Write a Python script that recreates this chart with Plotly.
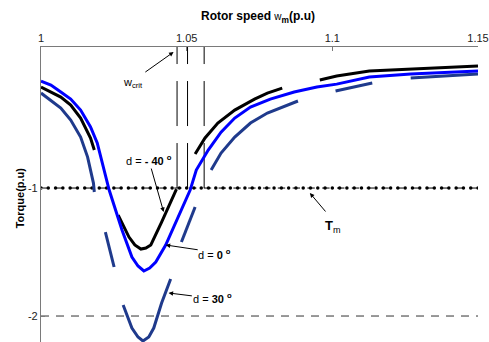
import numpy as np
import plotly.graph_objects as go

# ---- axis ticks ----
speed_ticks = [1.0, 1.05, 1.1, 1.15]
speed_tick_text = ["1", "1.05", "1.1", "1.15"]
torque_ticks = [-1, -2]
torque_tick_text = ["-1", "-2"]

# ---- reference levels ----
T_m = -1.0          # mechanical torque
T_low = -2.0        # lower dashed reference
w_crit = [1.0467, 1.0503, 1.0560]   # critical speeds (crossing of T_m)

# ---- torque-speed curves (None marks a break in the trace) ----
# d = -40 deg
dm40_speed = [1.0000, 1.0034, 1.0068, 1.0102, 1.0136, 1.0170, 1.0183, None,
              1.0265, 1.0302, 1.0322, 1.0343, 1.0360, 1.0377, 1.0414, 1.0445, 1.0465, None,
              1.0529, 1.0563, 1.0607, 1.0665, 1.0733, 1.0777, 1.0828, None,
              1.0957, 1.1015, 1.1127, 1.1269, 1.1500]
dm40_torque = [-0.211, -0.250, -0.289, -0.352, -0.453, -0.609, -0.703, None,
               -1.211, -1.383, -1.445, -1.477, -1.469, -1.445, -1.266, -1.117, -1.008, None,
               -0.734, -0.609, -0.492, -0.391, -0.305, -0.258, -0.219, None,
               -0.156, -0.125, -0.086, -0.070, -0.047]

# d = 0 deg
d0_speed = [1.0000, 1.0034, 1.0068, 1.0102, 1.0136, 1.0170, 1.0193, 1.0214,
            1.0227, 1.0234, 1.0278, 1.0312, 1.0333, 1.0353, 1.0373, 1.0394,
            1.0428, 1.0462, 1.0495, 1.0512, 1.0533, 1.0574, 1.0618, 1.0665,
            1.0719, 1.0787, 1.0869, 1.0947, 1.1015, 1.1127, 1.1269, 1.1500]
d0_torque = [-0.164, -0.195, -0.250, -0.305, -0.391, -0.523, -0.648, -0.836,
             -0.961, -1.016, -1.328, -1.539, -1.609, -1.648, -1.625, -1.578,
             -1.445, -1.273, -1.094, -1.016, -0.859, -0.703, -0.563, -0.453,
             -0.367, -0.305, -0.250, -0.211, -0.188, -0.133, -0.109, -0.086]

# d = 30 deg
d30_speed = [1.0000, 1.0034, 1.0068, 1.0102, 1.0136, 1.0160, 1.0180, 1.0183, None,
             1.0221, 1.0251, None,
             1.0282, 1.0312, 1.0333, 1.0350, 1.0370, 1.0387, 1.0414, 1.0445, None,
             1.0482, 1.0529, None,
             1.0584, 1.0618, 1.0665, 1.0719, 1.0777, 1.0835, 1.0882, None,
             1.1011, 1.1137, None,
             1.1269, 1.1388, 1.1500]
d30_torque = [-0.258, -0.313, -0.375, -0.469, -0.602, -0.758, -0.961, -1.031, None,
              -1.344, -1.617, None,
              -1.914, -2.094, -2.164, -2.195, -2.164, -2.094, -1.898, -1.711, None,
              -1.422, -1.148, None,
              -0.859, -0.727, -0.602, -0.492, -0.414, -0.359, -0.320, None,
              -0.242, -0.180, None,
              -0.141, -0.125, -0.109]

X_RANGE = [1.0, 1.15]
Y_RANGE = [-2.203, 0.102]

BLACK = "#000000"
BLUE = "#0000ff"
NAVY = "#1f3a8c"
AXIS_GRAY = "#7a7a7a"
FONT = "Liberation Sans, Arial, sans-serif"
NARROW = "Liberation Sans Narrow, Arial Narrow, Liberation Sans, sans-serif"

fig = go.Figure()

# T_m line: dots joined in pairs
tm_x = np.arange(X_RANGE[0], X_RANGE[1] + 1e-9, 0.0025)
fig.add_trace(go.Scatter(
    x=tm_x, y=[T_m] * len(tm_x), mode="lines+markers",
    line=dict(color=BLACK, width=1, dash="7.4px,7.4px"),
    marker=dict(color=BLACK, size=3.5), showlegend=False, hoverinfo="skip"))

# lower dashed reference
fig.add_trace(go.Scatter(
    x=X_RANGE, y=[T_low, T_low], mode="lines",
    line=dict(color="#333333", width=1, dash="8px,7px"),
    showlegend=False, hoverinfo="skip"))

# critical speed markers, drawn upward from T_m
for w in w_crit:
    fig.add_trace(go.Scatter(
        x=[w, w], y=[T_m, Y_RANGE[1]], mode="lines",
        line=dict(color=BLACK, width=1, dash="45px,17px"),
        showlegend=False, hoverinfo="skip"))

for xs, ys, col in [(d30_speed, d30_torque, NAVY),
                    (dm40_speed, dm40_torque, BLACK),
                    (d0_speed, d0_torque, BLUE)]:
    fig.add_trace(go.Scatter(
        x=xs, y=ys, mode="lines", connectgaps=False,
        line=dict(color=col, width=3),
        showlegend=False, hoverinfo="skip"))


def arrow(tail, head):
    return dict(x=head[0], y=head[1], ax=tail[0], ay=tail[1],
                xref="x", yref="y", axref="x", ayref="y",
                text="", showarrow=True, arrowhead=2, arrowsize=0.9,
                arrowwidth=1, arrowcolor=BLACK, standoff=0, startstandoff=0)


def label(x, y, txt, size=11, family=NARROW):
    return dict(x=x, y=y, xref="x", yref="y", text=txt, showarrow=False,
                font=dict(family=family, size=size, color="#000000"),
                xanchor="center", yanchor="middle")


annotations = [
    arrow((1.0353, -0.102), (1.0455, 0.0625)),
    label(1.0316, -0.180, "w<sub>crit</sub>", family=FONT),
    arrow((1.0377, -0.836), (1.0421, -1.1875)),
    label(1.0372, -0.781, "d = <b>- 40 <sup>o</sup></b>"),
    arrow((1.0543, -1.484), (1.0428, -1.445)),
    label(1.0596, -1.516, "d = <b>0 <sup>o</sup></b>"),
    arrow((1.0523, -1.844), (1.0438, -1.820)),
    label(1.0589, -1.859, "d = <b>30 <sup>o</sup></b>"),
    arrow((1.0981, -1.195), (1.0923, -1.039)),
    label(1.1003, -1.297, "<b>T</b><sub>m</sub>", size=13, family=FONT),
    # axis titles
    dict(x=0.4977, y=1.102, xref="paper", yref="paper", showarrow=False,
         text="<b>Rotor speed </b><span style='font-size:10px'>w</span>"
              "<sub><b>m</b></sub><b>(p.u)</b>",
         font=dict(family=FONT, size=12, color="#000000"),
         xanchor="center", yanchor="middle"),
    dict(x=-0.0475, y=0.488, xref="paper", yref="paper", showarrow=False,
         text="<b>Torque(p.u)</b>", textangle=-90,
         font=dict(family=FONT, size=11, color="#000000"),
         xanchor="center", yanchor="middle"),
]

fig.update_layout(
    width=489, height=342,
    margin=dict(l=41, r=6, t=47, b=0),
    paper_bgcolor="white", plot_bgcolor="white",
    annotations=annotations,
    xaxis=dict(range=X_RANGE, side="top", tickvals=speed_ticks,
               ticktext=speed_tick_text, ticks="inside", ticklen=4,
               tickcolor=AXIS_GRAY, showline=True, linecolor=AXIS_GRAY,
               linewidth=1.2, showgrid=False, zeroline=False,
               ticklabeloverflow="allow",
               tickfont=dict(family=FONT, size=11, color="#222222")),
    yaxis=dict(range=Y_RANGE, tickvals=torque_ticks,
               ticktext=torque_tick_text, ticks="inside", ticklen=4,
               tickcolor=AXIS_GRAY, showline=True, linecolor=AXIS_GRAY,
               linewidth=1.2, showgrid=False, zeroline=False,
               tickfont=dict(family=FONT, size=11, color="#222222")),
)

fig.write_html("out.html")
